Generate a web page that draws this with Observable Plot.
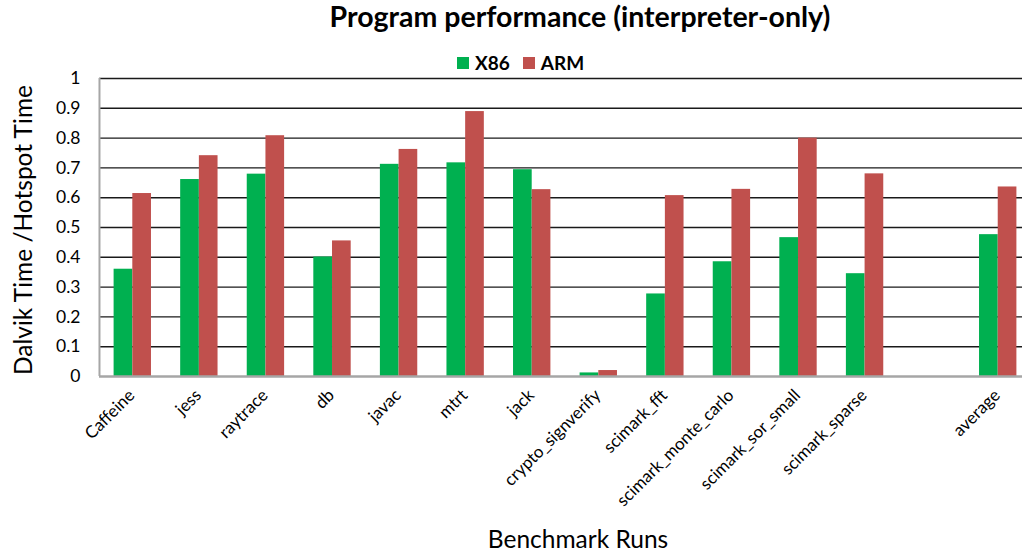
<!DOCTYPE html>
<html><head><meta charset="utf-8">
<script src="https://cdn.jsdelivr.net/npm/d3@7"></script>
<script src="https://cdn.jsdelivr.net/npm/@observablehq/plot@0.6"></script>
<style>
body{margin:0;background:#fff;font-family:Lato,"Open Sans",sans-serif;color:#000}
#wrap{position:relative;width:1022px;height:556px;overflow:hidden}
#chart{position:absolute;left:0;top:0}
#title{position:absolute;top:-1px;left:0;width:1160px;text-align:center;font-weight:bold;font-size:28.5px}
#legend{position:absolute;top:51px;left:457px;display:flex;align-items:center;font-weight:bold;font-size:19px}
#legend .sw{width:12px;height:12px;display:inline-block;margin-right:6px}
#legend .it{display:flex;align-items:center;margin-right:13px}
#ylab{position:absolute;left:22px;top:230px;transform:translate(-50%,-50%) rotate(-90deg);white-space:nowrap;font-size:24.5px}
#xlab{position:absolute;top:524px;left:0;width:1156px;text-align:center;font-size:24.5px}
</style></head>
<body>
<div id="wrap">
  <div id="chart"></div>
  <div id="title">Program performance (interpreter-only)</div>
  <div id="legend"></div>
  <div id="ylab">Dalvik Time /Hotspot Time</div>
  <div id="xlab">Benchmark Runs</div>
</div>
<script>
const categories = ["Caffeine","jess","raytrace","db","javac","mtrt","jack","crypto_signverify","scimark_fft","scimark_monte_carlo","scimark_sor_small","scimark_sparse","average"];
const x86 = [0.360,0.661,0.679,0.401,0.712,0.717,0.694,0.012,0.277,0.385,0.466,0.345,0.476];
const arm = [0.614,0.741,0.808,0.455,0.762,0.889,0.627,0.020,0.607,0.628,0.800,0.680,0.636];
const seriesNames = ["X86","ARM"];
const seriesColors = ["#00B050","#C0504D"];
const yTicks = [0,0.1,0.2,0.3,0.4,0.5,0.6,0.7,0.8,0.9,1];
const gapLabel = " ";
const xDomain = [...categories.slice(0,12), gapLabel, categories[12]];

const data = categories.map((c,i)=>({cat:c, x86:x86[i], arm:arm[i]}));

const chart = Plot.plot({
  width:1022, height:556, marginTop:78, marginBottom:180, marginLeft:99, marginRight:0,
  style:{fontFamily:"Lato", fontSize:"17.5px", color:"#000", background:"transparent"},
  x:{domain:xDomain, range:[99,1031], padding:0, round:false, axis:null},
  y:{domain:[0,1], ticks:yTicks, tickFormat:d=>String(+d.toFixed(1)), tickSize:0, tickPadding:19, label:null},
  marks:[
    Plot.ruleY(yTicks.filter(d=>d>0), {stroke:"#1a1a1a", strokeWidth:1.4}),
    Plot.barY(data, {x:"cat", y:"x86", fill:seriesColors[0], insetLeft:14.6, insetRight:33.3}),
    Plot.barY(data, {x:"cat", y:"arm", fill:seriesColors[1], insetLeft:33.3, insetRight:14.6}),
    Plot.ruleY([0], {stroke:"#a6a6a6", strokeWidth:2.5}),
    Plot.ruleX([categories[0]], {y1:0, y2:1, stroke:"#a6a6a6", strokeWidth:2, dx:-33.3}),
    Plot.text(categories, {x:d=>d, y:0, text:d=>d, rotate:-45, textAnchor:"end", dx:-1, dy:16, fontSize:17, fill:"#000"})
  ]
});
document.getElementById("chart").appendChild(chart);

const lg = document.getElementById("legend");
seriesNames.forEach((n,i)=>{
  const it = document.createElement("span"); it.className="it";
  it.innerHTML = `<span class="sw" style="background:${seriesColors[i]}"></span>${n}`;
  lg.appendChild(it);
});
</script>
</body></html>
